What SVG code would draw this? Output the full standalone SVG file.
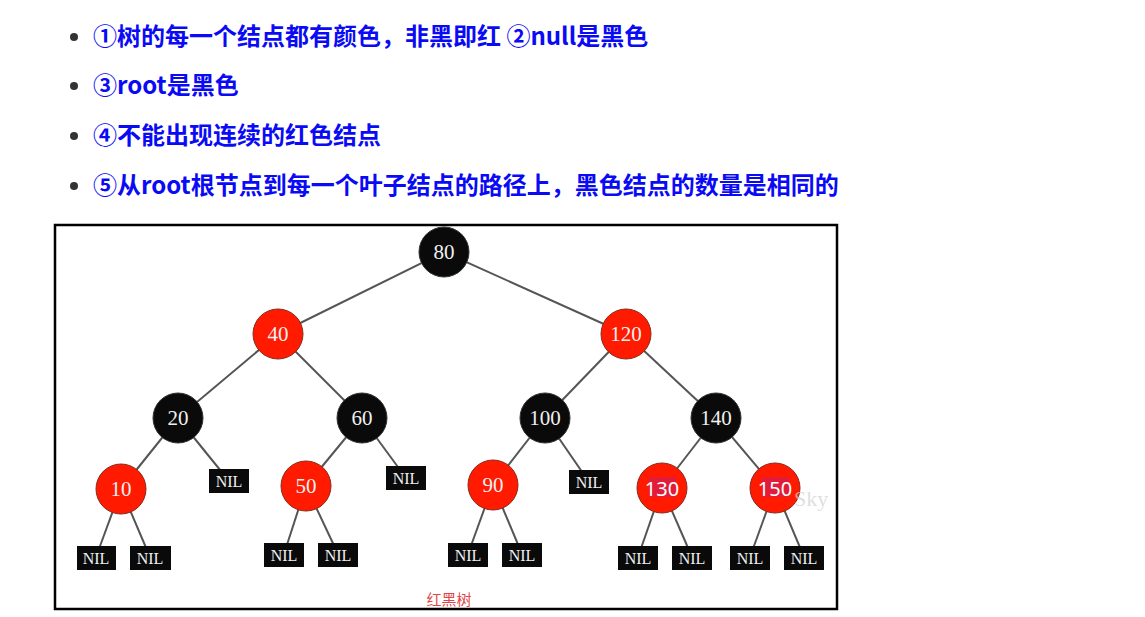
<svg xmlns="http://www.w3.org/2000/svg" width="1145" height="617" viewBox="0 0 1145 617">
<style>
.rule{font-family:"Noto Sans CJK SC","Noto Sans",sans-serif;font-weight:700;font-size:24px;fill:#0a0af5}
.dot{fill:#333}
.edge{stroke:#555;stroke-width:2;fill:none}
.blk{fill:#0a0a0a;stroke:#333;stroke-width:1}
.red{fill:#ff1a00;stroke:#8a2a1a;stroke-width:1}
.num{font-family:"Liberation Serif","DejaVu Serif",serif;font-size:21px;fill:#f0f0f0;text-anchor:middle}
.num2{font-family:"Noto Sans","Liberation Sans",sans-serif;font-size:20px;fill:#ffffff;text-anchor:middle}
.nil{fill:#0a0a0a}
.nilt{font-family:"Liberation Serif","DejaVu Serif",serif;font-size:16px;fill:#f0f0f0;text-anchor:middle}
</style>
<rect width="1145" height="617" fill="#fff"/>
<g id="rules">
<circle class="dot" cx="74" cy="37" r="4"/>
<text class="rule" x="93" y="45">①树的每一个结点都有颜色，非黑即红 ②null是黑色</text>
<circle class="dot" cx="74" cy="86" r="4"/>
<text class="rule" x="93" y="94">③root是黑色</text>
<circle class="dot" cx="74" cy="136" r="4"/>
<text class="rule" x="93" y="144">④不能出现连续的红色结点</text>
<circle class="dot" cx="74" cy="186" r="4"/>
<text class="rule" x="93" y="194">⑤从root根节点到每一个叶子结点的路径上，黑色结点的数量是相同的</text>
</g>
<rect id="frame" x="55" y="225" width="782" height="384" fill="none" stroke="#000" stroke-width="2.5"/>
<g id="connectors">
<line class="edge" x1="444" y1="252" x2="278" y2="334"/>
<line class="edge" x1="444" y1="252" x2="626" y2="334"/>
<line class="edge" x1="278" y1="334" x2="178" y2="418"/>
<line class="edge" x1="278" y1="334" x2="362" y2="418"/>
<line class="edge" x1="626" y1="334" x2="545" y2="418"/>
<line class="edge" x1="626" y1="334" x2="716" y2="418"/>
<line class="edge" x1="178" y1="418" x2="121" y2="489"/>
<line class="edge" x1="178" y1="418" x2="229" y2="481"/>
<line class="edge" x1="362" y1="418" x2="306" y2="486"/>
<line class="edge" x1="362" y1="418" x2="406" y2="478"/>
<line class="edge" x1="545" y1="418" x2="493" y2="485"/>
<line class="edge" x1="545" y1="418" x2="589" y2="482"/>
<line class="edge" x1="716" y1="418" x2="662" y2="488"/>
<line class="edge" x1="716" y1="418" x2="775" y2="488"/>
<line class="edge" x1="121" y1="489" x2="96" y2="557"/>
<line class="edge" x1="121" y1="489" x2="150" y2="557"/>
<line class="edge" x1="306" y1="486" x2="284" y2="554"/>
<line class="edge" x1="306" y1="486" x2="338" y2="554"/>
<line class="edge" x1="493" y1="485" x2="468" y2="554"/>
<line class="edge" x1="493" y1="485" x2="522" y2="554"/>
<line class="edge" x1="662" y1="488" x2="638" y2="557"/>
<line class="edge" x1="662" y1="488" x2="692" y2="557"/>
<line class="edge" x1="775" y1="488" x2="750" y2="557"/>
<line class="edge" x1="775" y1="488" x2="804" y2="557"/>
</g>
<g id="n80"><circle class="blk" cx="444" cy="252" r="25"/><text class="num" x="444" y="259">80</text></g>
<g id="n40"><circle class="red" cx="278" cy="334" r="25"/><text class="num" x="278" y="341">40</text></g>
<g id="n120"><circle class="red" cx="626" cy="334" r="25"/><text class="num" x="626" y="341">120</text></g>
<g id="n20"><circle class="blk" cx="178" cy="418" r="25"/><text class="num" x="178" y="425">20</text></g>
<g id="n60"><circle class="blk" cx="362" cy="418" r="25"/><text class="num" x="362" y="425">60</text></g>
<g id="n100"><circle class="blk" cx="545" cy="418" r="25"/><text class="num" x="545" y="425">100</text></g>
<g id="n140"><circle class="blk" cx="716" cy="418" r="25"/><text class="num" x="716" y="425">140</text></g>
<g id="n10"><circle class="red" cx="121" cy="489" r="25"/><text class="num" x="121" y="496">10</text></g>
<g id="n50"><circle class="red" cx="306" cy="486" r="25"/><text class="num" x="306" y="493">50</text></g>
<g id="n90"><circle class="red" cx="493" cy="485" r="25"/><text class="num" x="493" y="492">90</text></g>
<g id="n130"><circle class="red" cx="662" cy="488" r="25"/><rect x="649" y="477" width="27" height="20" fill="#e01c3a"/><text class="num2" x="662" y="496">130</text></g>
<g id="n150"><circle class="red" cx="775" cy="488" r="25"/><rect x="762" y="477" width="27" height="20" fill="#e01c3a"/><text class="num2" x="775" y="496">150</text></g>
<g id="nil20"><rect class="nil" x="209" y="469" width="40" height="24"/><text class="nilt" x="229" y="487">NIL</text></g>
<g id="nil60"><rect class="nil" x="386" y="466" width="40" height="24"/><text class="nilt" x="406" y="484">NIL</text></g>
<g id="nil100"><rect class="nil" x="569" y="470" width="40" height="24"/><text class="nilt" x="589" y="488">NIL</text></g>
<g id="nil10a"><rect class="nil" x="77" y="546" width="39" height="24"/><text class="nilt" x="96" y="564">NIL</text></g>
<g id="nil10b"><rect class="nil" x="130" y="546" width="41" height="24"/><text class="nilt" x="150" y="564">NIL</text></g>
<g id="nil50a"><rect class="nil" x="264" y="543" width="40" height="24"/><text class="nilt" x="284" y="561">NIL</text></g>
<g id="nil50b"><rect class="nil" x="318" y="543" width="40" height="24"/><text class="nilt" x="338" y="561">NIL</text></g>
<g id="nil90a"><rect class="nil" x="448" y="543" width="40" height="24"/><text class="nilt" x="468" y="561">NIL</text></g>
<g id="nil90b"><rect class="nil" x="502" y="543" width="40" height="24"/><text class="nilt" x="522" y="561">NIL</text></g>
<g id="nil130a"><rect class="nil" x="618" y="546" width="40" height="24"/><text class="nilt" x="638" y="564">NIL</text></g>
<g id="nil130b"><rect class="nil" x="672" y="546" width="40" height="24"/><text class="nilt" x="692" y="564">NIL</text></g>
<g id="nil150a"><rect class="nil" x="730" y="546" width="40" height="24"/><text class="nilt" x="750" y="564">NIL</text></g>
<g id="nil150b"><rect class="nil" x="784" y="546" width="40" height="24"/><text class="nilt" x="804" y="564">NIL</text></g>
<text x="794" y="506" font-family="Liberation Serif,serif" font-size="22" fill="#d0d0d0" fill-opacity="0.7">Sky</text>
<text x="449" y="605" font-family="Noto Sans CJK SC,sans-serif" font-size="15" fill="#e04848" text-anchor="middle">红黑树</text>
</svg>
